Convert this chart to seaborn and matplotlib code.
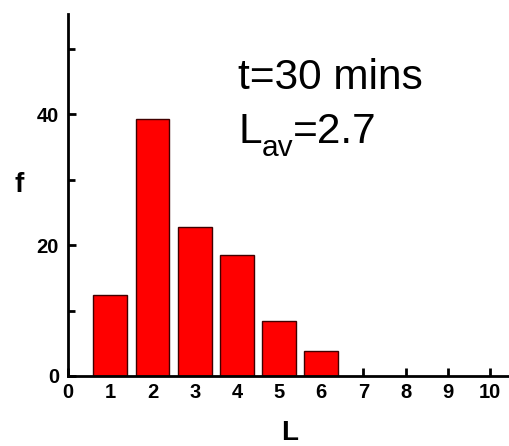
import matplotlib
matplotlib.use("Agg")
import matplotlib.pyplot as plt
import seaborn as sns
import pandas as pd
from matplotlib.ticker import MultipleLocator

L_values = [1, 2, 3, 4, 5, 6]
f_values = [12.4, 39.3, 22.8, 18.5, 8.4, 3.8]
x_ticks = list(range(0, 11))
y_ticks = [0, 20, 40]

sns.set_style("ticks")
plt.rcParams['font.family'] = ['Liberation Sans', 'DejaVu Sans']
plt.rcParams['text.color'] = 'black'
plt.rcParams['axes.labelcolor'] = 'black'
plt.rcParams['xtick.color'] = 'black'
plt.rcParams['ytick.color'] = 'black'
plt.rcParams['axes.edgecolor'] = 'black'

fig = plt.figure(figsize=(5.10, 4.46), dpi=100)
ax = fig.add_axes([0.1333, 0.157, 0.865, 0.8117])

df = pd.DataFrame({"L": L_values, "f": f_values})
sns.barplot(data=df, x="L", y="f", native_scale=True, width=0.8,
            color="#ff0000", saturation=1, edgecolor="#400000", linewidth=1, ax=ax)

ax.set_xlim(0, 10.45)
ax.set_ylim(0, 55.3)
ax.set_xticks(x_ticks)
ax.set_xticklabels([str(t) for t in x_ticks], fontweight="bold", fontsize=14.5)
ax.set_yticks(y_ticks)
ax.set_yticklabels([str(t) for t in y_ticks], fontweight="bold", fontsize=14.5)
ax.yaxis.set_minor_locator(MultipleLocator(10))
ax.tick_params(axis="both", which="major", direction="in", length=6, width=2)
ax.tick_params(axis="y", which="minor", direction="in", length=5, width=2)
ax.tick_params(axis="y", which="major", pad=6.5)
ax.tick_params(axis="x", which="major", pad=5)
for s in ["top", "right"]:
    ax.spines[s].set_visible(False)
for s in ["left", "bottom"]:
    ax.spines[s].set_linewidth(2)

ax.set_xlabel("L", fontweight="bold", fontsize=20)
ax.set_ylabel("f", fontweight="bold", fontsize=20, rotation=0, va="center", ha="center")
ax.xaxis.set_label_coords(0.503, -0.157)
ax.yaxis.set_label_coords(-0.11, 0.528)
ax.xaxis.label.set_va("center")

ax.text(4.03, 43.8, "t=30 mins", fontsize=30.5)
anchor = (4.03, 35.6)
ax.annotate("L", xy=anchor, xycoords="data", xytext=(0, 0),
            textcoords="offset points", fontsize=30.5, va="baseline")
ax.annotate("av", xy=anchor, xycoords="data", xytext=(16.9, -9.5),
            textcoords="offset points", fontsize=21.5, va="baseline")
ax.annotate("=2.7", xy=anchor, xycoords="data", xytext=(39.6, 0),
            textcoords="offset points", fontsize=30.5, va="baseline")

fig.savefig("out.png", dpi=100)
